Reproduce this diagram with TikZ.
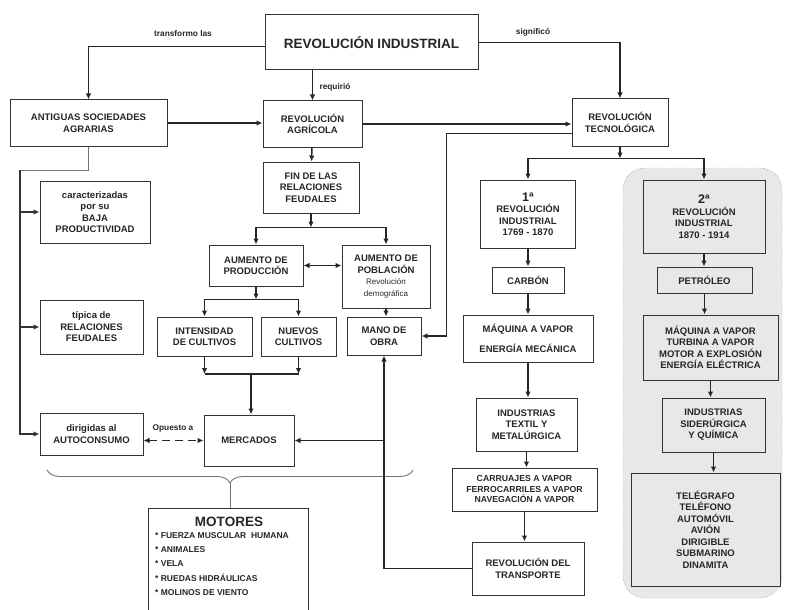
\documentclass[tikz,border=0pt]{standalone}
\usepackage{fontspec}
\setmainfont{Liberation Sans}
\usetikzlibrary{arrows.meta,calc,decorations.pathreplacing}

\begin{document}
\begin{tikzpicture}[x=1pt,y=-1pt,
    box/.style={draw=black!80,line width=1pt,align=center,inner sep=2pt,text=black!85,
      font=\fontsize{9.5}{11.5}\selectfont\bfseries},
    box2/.style={box,fill=black!9},
    lbl/.style={text=black!85,font=\fontsize{8.3}{9}\selectfont\bfseries},
    ln/.style={line width=1.4pt,draw=black!85},
    arr/.style={ln,-{Latex[length=6pt,width=5.5pt]}},
    dbl/.style={ln,{Latex[length=6pt,width=5.5pt]}-{Latex[length=6pt,width=5.5pt]}},
    gln/.style={line width=0.9pt,draw=black!55},
    garr/.style={line width=1.1pt,draw=black!80,-{Latex[length=6pt,width=5.5pt]}},
    gbox/.style={fill=black!9,draw=black!50,densely dotted,rounded corners=22pt}]
  \useasboundingbox (0,0) rectangle (785,610);
  \fill [white] (0,0) rectangle (785,610);
  \clip (0,0) rectangle (785,610);

  %% shaded block of the second revolution
  \draw [gbox] (623,168) rectangle (782,598);

  \node [box,minimum width=213pt,minimum height=55pt,font=\fontsize{13.5}{15}\selectfont\bfseries] (revind) at (371.5,42.5) {REVOLUCIÓN INDUSTRIAL};
  \node [box,minimum width=157pt,minimum height=46pt] (antiguas) at (88.5,123) {ANTIGUAS SOCIEDADES\\AGRARIAS};
  \node [box,minimum width=99pt,minimum height=46pt] (revagr) at (312.5,124) {REVOLUCIÓN\\AGRÍCOLA};
  \node [box,minimum width=96pt,minimum height=47pt] (revtec) at (620,122.5) {REVOLUCIÓN\\TECNOLÓGICA};
  \node [box,minimum width=96pt,minimum height=51pt] (fin) at (311,187.5) {FIN DE LAS\\RELACIONES\\FEUDALES};
  \node [box,minimum width=94pt,minimum height=41pt] (aumprod) at (256,265.5) {AUMENTO DE\\PRODUCCIÓN};
  \node [box,minimum width=88pt,minimum height=63pt] (aumpobl) at (386,276.5)
    {AUMENTO DE\\POBLACIÓN\\{\fontsize{8}{9}\selectfont\mdseries Revolución}\\{\fontsize{8}{9}\selectfont\mdseries demográfica}};
  \node [box,minimum width=95pt,minimum height=39pt] (intens) at (204.5,336.5) {INTENSIDAD\\DE CULTIVOS};
  \node [box,minimum width=75pt,minimum height=39pt] (nuevos) at (298.5,336.5) {NUEVOS\\CULTIVOS};
  \node [box,minimum width=74pt,minimum height=38pt] (mano) at (384,336) {MANO DE\\OBRA};
  \node [box,minimum width=110pt,minimum height=62pt] (caract) at (95,212) {caracterizadas\\por su\\BAJA\\PRODUCTIVIDAD};
  \node [box,minimum width=103pt,minimum height=54pt] (tipica) at (91.5,327) {típica de\\RELACIONES\\FEUDALES};
  \node [box,minimum width=103pt,minimum height=42pt] (dirig) at (91.5,434) {dirigidas al\\AUTOCONSUMO};
  \node [box,minimum width=90pt,minimum height=51pt] (merc) at (249,440.5) {MERCADOS};

  \node [box,minimum width=160pt,minimum height=110pt,anchor=north] (motores) at (228,508) {};
  \node [lbl,font=\fontsize{13.5}{15}\selectfont\bfseries] (mottit) at (229,522) {MOTORES};
  \node [lbl,anchor=north west,align=left,inner sep=0pt,font=\fontsize{8.5}{14.3}\selectfont\bfseries] (motlist) at (155,532)
    {* FUERZA MUSCULAR\ \ HUMANA\\* ANIMALES\\* VELA\\* RUEDAS HIDRÁULICAS\\* MOLINOS DE VIENTO};

  %% first industrial revolution
  \node [box,minimum width=95pt,minimum height=68pt] (ind1) at (528,214) {{\fontsize{12.5}{13}\selectfont 1ª}\\REVOLUCIÓN\\INDUSTRIAL\\1769 - 1870};
  \node [box,minimum width=72pt,minimum height=26pt] (carbon) at (528,280) {CARBÓN};
  \node [box,minimum width=130pt,minimum height=47pt] (maq1) at (528,338.5) {MÁQUINA A VAPOR\\[9pt]ENERGÍA MECÁNICA};
  \node [box,minimum width=101pt,minimum height=53pt] (textil) at (526.5,424.5) {INDUSTRIAS\\TEXTIL Y\\METALÚRGICA};
  \node [box,minimum width=145pt,minimum height=43pt,font=\fontsize{8.7}{10.5}\selectfont\bfseries] (carru) at (524.5,489.5)
    {CARRUAJES A VAPOR\\FERROCARRILES A VAPOR\\NAVEGACIÓN A VAPOR};
  \node [box,minimum width=112pt,minimum height=53pt] (transp) at (528,568.5) {REVOLUCIÓN DEL\\TRANSPORTE};

  %% second industrial revolution
  \node [box2,minimum width=122pt,minimum height=73pt] (ind2) at (704,216.5) {{\fontsize{12.5}{13}\selectfont 2ª}\\REVOLUCIÓN\\INDUSTRIAL\\1870 - 1914};
  \node [box2,minimum width=95pt,minimum height=26pt] (petro) at (704.5,280) {PETRÓLEO};
  \node [box2,minimum width=135pt,minimum height=65pt] (maq2) at (710.5,347.5) {MÁQUINA A VAPOR\\TURBINA A VAPOR\\MOTOR A EXPLOSIÓN\\ENERGÍA ELÉCTRICA};
  \node [box2,minimum width=103pt,minimum height=54pt] (sider) at (713.5,425) {INDUSTRIAS\\SIDERÚRGICA\\Y QUÍMICA};
  \node [box2,minimum width=149pt,minimum height=113pt] (teleg) at (705.5,529.5)
    {TELÉGRAFO\\TELÉFONO\\AUTOMÓVIL\\AVIÓN\\DIRIGIBLE\\SUBMARINO\\DINAMITA};

  %% top connectors
  \draw [arr] ([yshift=-4pt]revind.west) -| (antiguas.north);
  \node [lbl] (ltrans) at (183,34) {transformo las};
  \draw [arr] (revind.south -| revagr) -- (revagr.north);
  \node [lbl] (lreq) at (335,87) {requirió};
  \draw [arr] (revind.east) -| (revtec.north);
  \node [lbl] (lsig) at (533,32) {significó};
  \draw [arr] (antiguas.east) -- (antiguas.east -| revagr.west);
  \draw [arr] (revagr.east) -- (revagr.east -| revtec.west);

  %% left branch
  \coordinate (lc) at (20,170);
  \draw [gln] (antiguas.south) |- (lc);
  \draw [garr] (lc) |- (dirig.west);
  \draw [garr] (lc |- caract.west) -- (caract.west);
  \draw [garr] (lc |- tipica.west) -- (tipica.west);

  %% middle branch
  \draw [arr] (revagr) -- (fin);
  \draw [arr] (fin.south) -- ++(0,14) coordinate (fj);
  \draw [arr] (fj) -| (aumprod.north);
  \draw [arr] (fj) -| (aumpobl.north);
  \draw [dbl] (aumprod.east) -- (aumprod.east -| aumpobl.west);
  \draw [arr] (aumprod.south) -- ++(0,13) coordinate (pj);
  \draw [arr] (pj) -| (intens.north);
  \draw [arr] (pj) -| (nuevos.north);
  \draw [arr] (aumpobl.south) -- (aumpobl.south |- mano.north);
  \coordinate (cj) at (251,374);
  \draw [arr] (intens.south) -- (intens.south |- cj);
  \draw [arr] (nuevos.south) -- (nuevos.south |- cj);
  \draw [ln] (intens.south |- cj) -- (nuevos.south |- cj);
  \draw [arr] (cj) -- (cj |- merc.north);
  \draw [dbl,dash pattern=on 8pt off 5pt] (merc.west -| dirig.east) -- (merc.west);
  \node [lbl] (lopu) at (173,428) {Opuesto a};

  %% brace over the motors
  \draw [gln,decorate,decoration={brace,amplitude=13pt}] (413,470) -- (47,470);
  \coordinate (btip) at (230,483);
  \draw [gln] (btip) -- (btip |- motores.north);

  %% technology branch
  \draw [arr] (revtec.south) -- ++(0,12) coordinate (tj);
  \draw [arr] (tj) -| (ind1.north);
  \draw [arr] (tj) -| (ind2.north);
  \draw [arr] ([yshift=-11pt]revtec.west) -- ++(-125,0) |- (mano.east);

  \draw [arr] (ind1) -- (carbon);
  \draw [arr] (carbon) -- (maq1);
  \draw [arr] (maq1.south) -- (maq1.south |- textil.north);
  \draw [arr] (textil.south) -- (textil.south |- carru.north);
  \draw [arr] (carru.south) -- (carru.south |- transp.north);
  \draw [arr] (transp.west) -| (mano.south);
  \draw [arr] (mano.south |- merc.east) -- (merc.east);

  \draw [arr] (ind2.south) -- (ind2.south |- petro.north);
  \draw [arr] (petro.south) -- (petro.south |- maq2.north);
  \draw [arr] (maq2.south) -- (maq2.south |- sider.north);
  \draw [arr] (sider.south) -- (sider.south |- teleg.north);
\end{tikzpicture}
\end{document}
